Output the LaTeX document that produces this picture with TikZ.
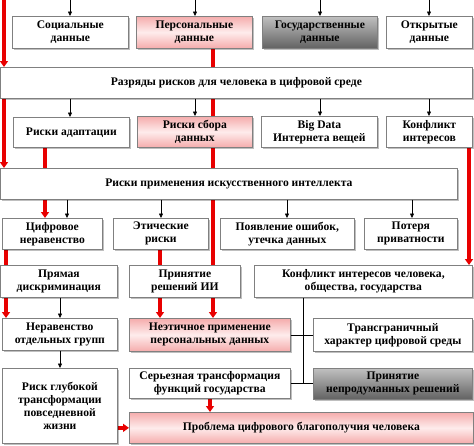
\documentclass[tikz,border=0pt]{standalone}
\usepackage{fontspec}
\setmainfont{Liberation Serif}
\usetikzlibrary{shadows,arrows.meta}
\pgfdeclarelayer{background}
\pgfsetlayers{background,main}
\definecolor{bordc}{RGB}{128,128,128}
\definecolor{pinkA}{RGB}{245,172,172}
\definecolor{pinkB}{RGB}{254,236,236}
\definecolor{greyA}{RGB}{192,192,192}
\definecolor{greyB}{RGB}{98,98,98}
\definecolor{redc}{RGB}{232,0,0}
\tikzset{
  box/.style={draw=bordc, line width=0.7pt, fill=white, anchor=north west, align=center,
    inner sep=1pt, font=\bfseries\fontsize{11.6}{13}\selectfont,
    drop shadow={shadow xshift=1.2pt, shadow yshift=-1.2pt, fill=black, opacity=0.25}},
  pinkbox/.style={box, top color=pinkA, bottom color=pinkA, middle color=pinkB},
  greybox/.style={box, top color=greyA, bottom color=greyB},
  barrow/.style={draw=black, line width=0.6pt, -{Triangle[length=4.5pt,width=4pt]}},
  rarrow/.style={draw=redc, line width=3.4pt, -{Triangle[length=6pt,width=8pt]}},
  rline/.style={draw=redc, line width=3.4pt},
  cline/.style={draw=black, line width=0.6pt},
}
\begin{document}
\begin{tikzpicture}[x=1pt,y=-1pt]
\useasboundingbox (0,0) rectangle (474,445);
% row 1
\node[box, minimum width=116pt, minimum height=32pt] (soc) at (12,16) {Социальные\\данные};
\node[pinkbox, minimum width=116pt, minimum height=32pt] (pers) at (136,16) {Персональные\\данные};
\node[greybox, minimum width=115pt, minimum height=32pt] (gos) at (262,16) {Государственные\\данные};
\node[box, minimum width=86pt, minimum height=32pt] (otk) at (386,16) {Открытые\\данные};
% row razr
\node[box, minimum width=472pt, minimum height=31pt] (razr) at (0,67) {Разряды рисков для человека в цифровой среде};
% row 2
\node[box, minimum width=116pt, minimum height=30pt] (adapt) at (13,117) {Риски адаптации};
\node[pinkbox, minimum width=115pt, minimum height=31pt] (sbor) at (137,116) {Риски сбора\\данных};
\node[box, minimum width=116pt, minimum height=31pt] (big) at (261,116) {Big Data\\Интернета вещей};
\node[box, minimum width=86pt, minimum height=31pt] (konf) at (386,116) {Конфликт\\интересов};
% prim
\node[box, minimum width=457pt, minimum height=31pt] (prim) at (0,168) {Риски применения искусственного интеллекта};
% row 3
\node[box, minimum width=100pt, minimum height=31pt] (cifr) at (2,218) {Цифровое\\неравенство};
\node[box, minimum width=95pt, minimum height=31pt] (etic) at (113,218) {Этические\\риски};
\node[box, minimum width=134pt, minimum height=31pt] (pojav) at (220,218) {Появление ошибок,\\утечка данных};
\node[box, minimum width=93pt, minimum height=31pt] (poter) at (364,218) {Потеря\\приватности};
% row 4
\node[box, minimum width=117pt, minimum height=32pt] (prjam) at (0,265) {Прямая\\дискриминация};
\node[box, minimum width=111pt, minimum height=32pt] (prinII) at (129,265) {Принятие\\решений ИИ};
\node[box, minimum width=218pt, minimum height=32pt] (konfH) at (254,265) {Конфликт интересов человека,\\общества, государства};
% row 5
\node[box, minimum width=115pt, minimum height=32pt] (nerav) at (2,318) {Неравенство\\отдельных групп};
\node[pinkbox, minimum width=161pt, minimum height=33pt] (neetic) at (129,318) {Неэтичное применение\\персональных данных};
\node[box, minimum width=159pt, minimum height=33pt] (trans) at (313,318) {Трансграничный\\характер цифровой среды};
% row 6
\node[box, minimum width=115pt, minimum height=75pt] (risk) at (2,368) {Риск глубокой\\трансформации\\повседневной\\жизни};
\node[box, minimum width=161pt, minimum height=30pt] (serez) at (129,368) {Серьезная трансформация\\функций государства};
\node[greybox, minimum width=159pt, minimum height=31pt] (nepr) at (313,368) {Принятие\\непродуманных решений};
\node[pinkbox, minimum width=344pt, minimum height=31pt] (probl) at (129,412) {Проблема цифрового благополучия человека};
% coordinates
\coordinate (xa) at (70,0);
\coordinate (xb) at (195,0);
\coordinate (xc) at (320,0);
\coordinate (xd) at (429,0);
\coordinate (xr1) at (4,0);
\coordinate (xr2) at (45,0);
\coordinate (xr3) at (6,0);
\coordinate (xr4) at (160,0);
\coordinate (xr5) at (213,0);
\coordinate (xr6) at (469,0);
\coordinate (xr7) at (210,0);
\coordinate (e1) at (67,0);
\coordinate (e2) at (161,0);
\coordinate (e3) at (287,0);
\coordinate (e4) at (412,0);
\coordinate (xn) at (60,0);
\coordinate (xv) at (303,0);
% black arrows
\foreach \c/\n in {xa/soc,xb/pers,xc/gos,xd/otk}{\draw[barrow] (\c) -- (\c |- \n.north);}
\foreach \c/\n in {xa/adapt,xb/sbor,xc/big,xd/konf}{\draw[barrow] (\c |- razr.south) -- (\c |- \n.north);}
\foreach \c/\n in {e1/cifr,e2/etic,e3/pojav,e4/poter}{\draw[barrow] (\c |- prim.south) -- (\c |- \n.north);}
\draw[barrow] (xn |- prjam.south) -- (xn |- nerav.north);
\draw[barrow] (xn |- nerav.south) -- (xn |- risk.north);
% connector lines
\draw[cline] (xv |- konfH.south) -- (xv |- serez.east);
\draw[cline] (neetic.east) -- (trans.west);
\draw[cline] (serez.east) -- (nepr.west |- serez.east);
% red
\begin{pgfonlayer}{background}
\draw[rarrow] (xr1) -- (xr1 |- razr.north);
\draw[rarrow] (xr1 |- razr.south) -- (xr1 |- prim.north);
\draw[rarrow] (xr2 |- adapt.south) -- (xr2 |- cifr.north);
\draw[rarrow] (xr3 |- cifr.south) -- (xr3 |- nerav.north);
\draw[rarrow] (xr4 |- etic.south) -- (xr4 |- neetic.north);
\draw[rline] (xr5 |- pers.south) -- (xr5 |- sbor.north);
\draw[rarrow] (xr5 |- sbor.south) -- (xr5 |- neetic.north);
\draw[rarrow] (xr6 |- konf.south) -- (xr6 |- konfH.north);
\draw[rarrow] (xr7 |- serez.south) -- (xr7 |- probl.north);
\draw[rarrow] (risk.east |- probl.west) -- (probl.west);
\end{pgfonlayer}
\end{tikzpicture}
\end{document}
